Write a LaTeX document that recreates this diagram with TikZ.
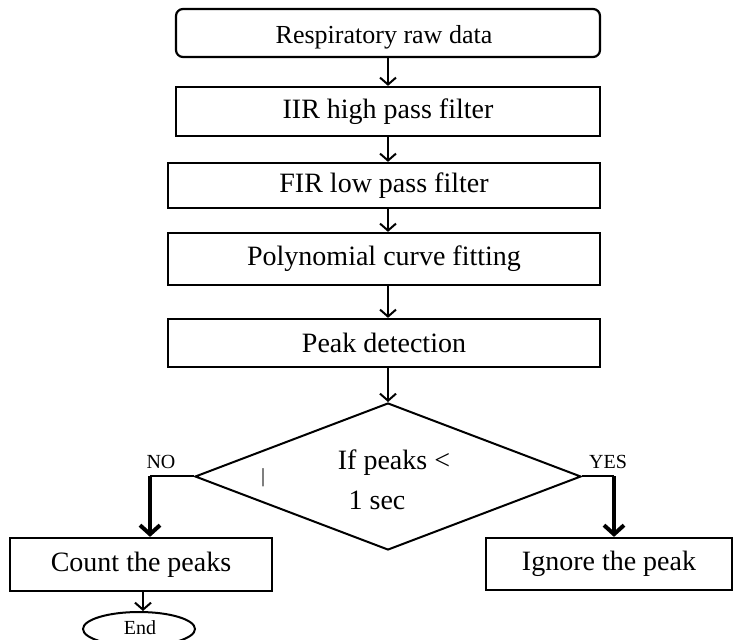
\documentclass[tikz,border=0pt]{standalone}
\usepackage{fontspec}
\setmainfont{Liberation Serif}
\usetikzlibrary{arrows.meta,shapes}

\begin{document}
\begin{tikzpicture}[x=0.5pt,y=-0.5pt]
\tikzset{
	box node/.style = {rectangle, draw, line width = 1.1pt, inner sep = 0, minimum width = 216pt, font = \fontsize{14}{16}\selectfont},
	start node/.style = {box node, rounded corners = 3.5pt, minimum width = 212pt, minimum height = 24pt, font = \fontsize{13}{15}\selectfont},
	test node/.style = {diamond, draw, line width = 1pt, inner sep = 0, minimum width = 193pt, minimum height = 73.5pt},
	end node/.style = {ellipse, draw, line width = 1pt, inner sep = 0, minimum width = 56pt, minimum height = 17pt},
	small label/.style = {inner sep = 0, font = \fontsize{10}{12}\selectfont},
	flow/.style = {line width = 1pt, -{Straight Barb[length = 3.5pt, width = 8pt, line width = 1pt]}},
	branch/.style = {line width = 2pt, -{Straight Barb[length = 4.5pt, width = 10pt, line width = 2pt]}}
}
\useasboundingbox (0,0) rectangle (738,640);

\node(raw)[start node] at (388,33){};
\node[inner sep = 0, font = \fontsize{13}{15}\selectfont] at (384,37){Respiratory raw data};
\node(hpf)[box node, minimum width = 212pt, minimum height = 24.5pt] at (388,111.5){IIR high pass filter};
\node(lpf)[box node, minimum height = 22.5pt] at (384,185.5){FIR low pass filter};
\node(fit)[box node, minimum height = 26pt] at (384,259){Polynomial curve fitting};
\node(peak)[box node, minimum height = 24pt] at (384,343){Peak detection};
\node(test)[test node] at (388,476.5){};
\node(cond1)[inner sep = 0, font = \fontsize{14}{16}\selectfont] at (394,463){If peaks <};
\node(cond2)[inner sep = 0, font = \fontsize{14}{16}\selectfont] at (377,500){1 sec};
\node(bar)[small label] at (263,478){|};
\node(count)[box node, minimum width = 131pt, minimum height = 26.5pt] at (141,564.5){Count the peaks};
\node(ignore)[box node, minimum width = 123pt, minimum height = 26pt] at (609,564){Ignore the peak};
\node(stop)[end node] at (139,629){};
\node[small label] at (140,627.5){End};
\node(no)[small label] at (161,462){NO};
\node(yes)[small label] at (608,462){YES};
\coordinate(nocorner) at (150,476.5);
\coordinate(yescorner) at (614,476.5);

\draw[flow] (raw.south) -- (hpf.north);
\draw[flow] (hpf.south) -- (hpf.south |- lpf.north);
\draw[flow] (hpf.south |- lpf.south) -- (hpf.south |- fit.north);
\draw[flow] (hpf.south |- fit.south) -- (hpf.south |- peak.north);
\draw[flow] (hpf.south |- peak.south) -- (test.north);
\draw[line width = 1pt] (test.west) -- (nocorner);
\draw[branch] (nocorner) -- (nocorner |- count.north);
\draw[line width = 1pt] (test.east) -- (yescorner);
\draw[branch] (yescorner) -- (yescorner |- ignore.north);
\draw[flow] (count.south -| 143,0) -- (stop.north -| 143,0);
\end{tikzpicture}
\end{document}
